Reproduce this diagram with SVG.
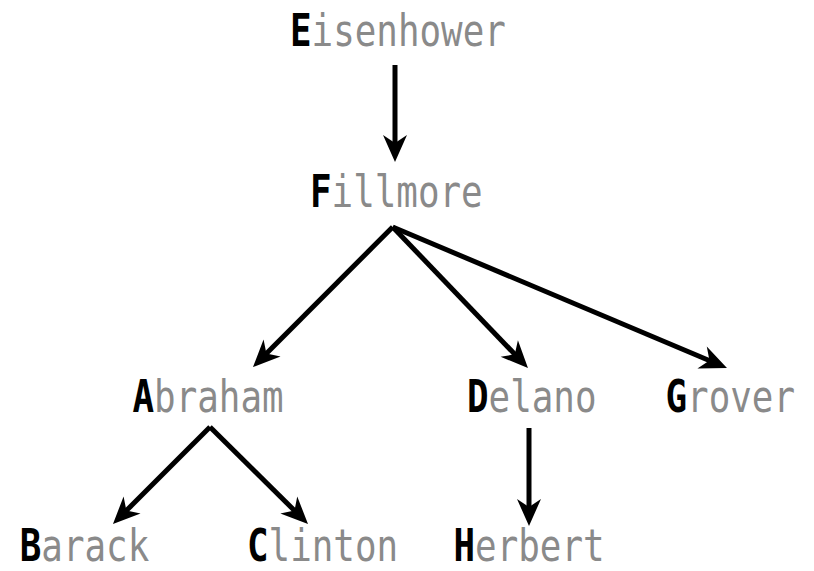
<svg xmlns="http://www.w3.org/2000/svg" width="814" height="571" viewBox="0 0 814 571">
  <style>
    .lbl { font-family: "DejaVu Sans Mono", monospace; font-size: 44px; }
    .k { font-weight: bold; fill: #000; }
    .r { fill: #8a8a8a; }
    .edge { stroke: #000; stroke-width: 5; fill: none; marker-end: url(#ah); }
  </style>
  <defs>
    <marker id="ah" markerUnits="userSpaceOnUse" viewBox="-28 -13 30 26" refX="-18" refY="0" markerWidth="30" markerHeight="26" orient="auto">
      <path d="M0,0 L-27,-12 L-19,0 L-27,12 Z" fill="#000"/>
    </marker>
  </defs>
  <g id="connectors">
    <line class="edge" x1="395" y1="65" x2="395" y2="144"/>
    <line class="edge" x1="392.7" y1="227" x2="265.7" y2="354.3"/>
    <line class="edge" x1="392.7" y1="227" x2="515.5" y2="355"/>
    <line class="edge" x1="392.7" y1="227" x2="710.4" y2="361"/>
    <line class="edge" x1="210" y1="427" x2="125.7" y2="511.3"/>
    <line class="edge" x1="210" y1="427" x2="295.2" y2="511.3"/>
    <line class="edge" x1="529" y1="428" x2="529" y2="508"/>
  </g>
  <g id="node-E" transform="translate(290,45.5) scale(0.815,1)"><text class="lbl" x="0" y="0"><tspan class="k">E</tspan><tspan class="r">isenhower</tspan></text></g>
  <g id="node-F" transform="translate(310,207) scale(0.815,1)"><text class="lbl" x="0" y="0"><tspan class="k">F</tspan><tspan class="r">illmore</tspan></text></g>
  <g id="node-A" transform="translate(132.5,412) scale(0.815,1)"><text class="lbl" x="0" y="0"><tspan class="k">A</tspan><tspan class="r">braham</tspan></text></g>
  <g id="node-D" transform="translate(467,412) scale(0.815,1)"><text class="lbl" x="0" y="0"><tspan class="k">D</tspan><tspan class="r">elano</tspan></text></g>
  <g id="node-G" transform="translate(665.5,412) scale(0.815,1)"><text class="lbl" x="0" y="0"><tspan class="k">G</tspan><tspan class="r">rover</tspan></text></g>
  <g id="node-B" transform="translate(19.7,560.5) scale(0.815,1)"><text class="lbl" x="0" y="0"><tspan class="k">B</tspan><tspan class="r">arack</tspan></text></g>
  <g id="node-C" transform="translate(247,560.5) scale(0.815,1)"><text class="lbl" x="0" y="0"><tspan class="k">C</tspan><tspan class="r">linton</tspan></text></g>
  <g id="node-H" transform="translate(453.5,560.5) scale(0.815,1)"><text class="lbl" x="0" y="0"><tspan class="k">H</tspan><tspan class="r">erbert</tspan></text></g>
</svg>
